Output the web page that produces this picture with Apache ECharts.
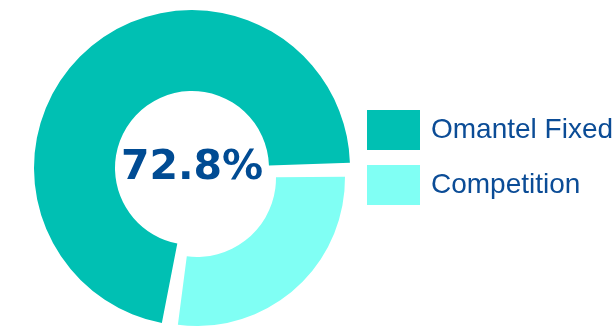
<!DOCTYPE html>
<html>
<head>
<meta charset="utf-8">
<script src="https://cdn.jsdelivr.net/npm/echarts@6/dist/echarts.min.js"></script>
<style>
  html, body { margin: 0; padding: 0; background: #fff; }
  #chart { width: 616px; height: 328px; }
</style>
</head>
<body>
<div id="chart"></div>
<script>
// market share, fixed line
const names = ["Omantel Fixed", "Competition"];
const shares = [72.8, 27.2];
const centerLabel = "72.8%";

const colors = ["#00c0b3", "#80fff4"];
const hidden = "rgba(0,0,0,0)";

const chart = echarts.init(document.getElementById("chart"));

// the exploded slice sits on its own ring, so draw each slice in its own series
const sliceData = (shown) =>
	names.map((name, i) => ({
		name,
		value: shares[i],
		itemStyle: { color: i === shown ? colors[i] : hidden },
	}));

const pieBase = {
	type: "pie",
	clockwise: true,
	silent: true,
	label: { show: false },
	labelLine: { show: false },
	emphasis: { disabled: true },
};

chart.setOption({
	animation: false,
	legend: {
		orient: "vertical",
		left: 367,
		top: 110,
		padding: 0,
		itemWidth: 53,
		itemHeight: 40,
		itemGap: 15,
		icon: "rect",
		selectedMode: false,
		data: names.map((name, i) => ({
			name,
			itemStyle: { color: colors[i] },
		})),
		textStyle: {
			fontFamily: "Liberation Sans",
			fontSize: 28,
			color: "#0b4c96",
			padding: [8, 0, 0, 6],
		},
	},
	graphic: [
		{
			type: "text",
			x: 192,
			y: 168,
			style: {
				text: centerLabel,
				fontFamily: "DejaVu Sans",
				fontWeight: "bold",
				fontSize: 41,
				fill: "#004b93",
				align: "center",
				verticalAlign: "middle",
			},
		},
	],
	series: [
		Object.assign({}, pieBase, {
			name: "main",
			center: [192, 168],
			radius: [77, 158],
			startAngle: -98.5,
			padAngle: 5,
			data: sliceData(0),
		}),
		Object.assign({}, pieBase, {
			name: "exploded",
			center: [197, 178],
			radius: [79, 148],
			startAngle: 0.5,
			data: sliceData(1).reverse(),
		}),
	],
});
</script>
</body>
</html>
